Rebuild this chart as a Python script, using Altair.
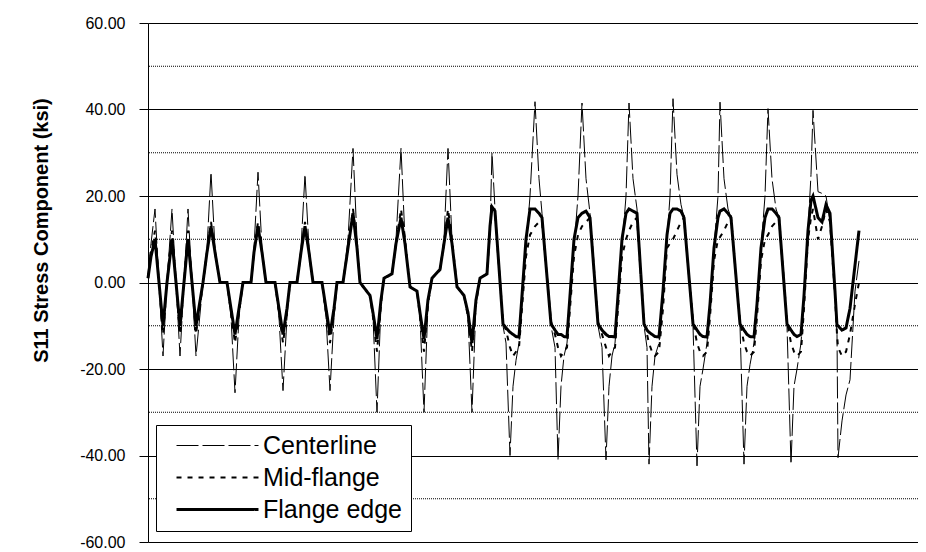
import altair as alt
import pandas as pd

step = [0, 3, 7, 11, 15, 19, 24, 28, 32, 36, 40, 44, 48,
        55, 59, 63, 67, 72, 79, 83, 87, 91, 95, 103, 106, 110, 114, 118, 127,
        131, 135, 139, 142, 149, 153, 157, 161, 165, 174, 178, 182, 186, 189, 195,
        200, 205, 209, 212, 222, 225, 229, 233, 236, 244, 248, 253, 257, 262, 269,
        272, 276, 280, 284, 292, 296, 300, 304, 309, 316, 320, 324, 328, 332, 339,
        342, 344, 347, 355, 358, 362, 365, 368, 371, 374, 378, 382, 387, 391, 394,
        403, 407, 410, 413, 416, 419, 422, 426, 430, 434, 438, 442,
        450, 454, 458, 461, 464, 467, 470, 474, 478, 481, 485, 489,
        496, 499, 501, 504, 507, 511, 515, 519, 522, 525, 529, 533, 536,
        545, 549, 552, 555, 559, 562, 566, 570, 572, 576, 580, 583,
        592, 596, 599, 602, 606, 609, 613, 617, 620, 624, 628, 631,
        639, 643, 646, 649, 653, 656, 660, 663, 665, 670, 674, 678, 682,
        687, 689, 690, 694, 698, 702, 707, 711]

centerline = [2, 9, 17, 0, -17, 0, 17, 0, -17, 0, 17, 0, -17,
              0, 8, 25.5, 8, 0, 0, -8, -25.5, -8, 0, 0, 8, 25.5, 8, 0, 0,
              -8, -25, -8, 0, 0, 8, 25, 8, 0, 0, -8, -25, -8, 0, 0,
              10, 31, 10, 0, -3, -8, -30, -5, 1, 2, 10, 31, 10, -1, -2,
              -8, -30, -5, 1, 3, 10, 31, 10, -1, -3, -8, -30, -5, 1, 2,
              12, 30, 17, -10, -14, -40, -24, -18, -14, -5, 8, 20, 41.8, 24, 16,
              -10, -15, -41, -24, -17, -14, -5, 8, 20, 41.5, 24, 16,
              -10, -15, -41, -24, -17, -14, -5, 8, 20, 41.5, 24, 17,
              -10, -15, -42, -24, -17, -14, -4, 10, 20, 42.5, 25, 18, 15,
              -10, -42.4, -24, -20, -14, -5, 8, 20, 41.7, 24, 17, 15,
              -10, -42, -24, -19, -14, -5, 8, 20, 40.2, 24, 17, 15,
              -10, -42, -24, -20, -14, -4, 12, 25, 39.8, 21, 20.6, 20, 14,
              -3, -12, -40.5, -32, -26, -22.5, -2, 5]

mid_flange = [1, 7, 12, 0, -12, 0, 12, 0, -12, 0, 12, 0, -12,
              0, 7, 14, 7, 0, 0, -7, -14, -7, 0, 0, 7, 14, 7, 0, 0,
              -7, -14, -7, 0, 0, 7, 14, 7, 0, 0, -7, -14, -7, 0, 0,
              8, 17, 9, 0, -3, -8, -16, -5, 1, 2, 9, 17, 10, -1, -2,
              -8, -16, -5, 1, 3, 9, 17, 10, -1, -3, -8, -16, -5, 1, 2,
              12, 17, 16, -9, -11, -15, -17, -16, -15, -6, 6, 11, 13, 14, 14,
              -9, -12, -15, -17, -16, -15, -6, 6, 11, 13, 14, 15,
              -9, -12, -15, -17, -16, -15, -6, 6, 10, 12, 14, 15,
              -9, -12, -14, -16, -17, -16, -6, 8, 9, 10, 12, 14, 15,
              -9, -14, -16, -17, -16, -8, 5, 10, 10.5, 12, 14, 15,
              -9, -14, -16, -17, -16, -8, 5, 10, 11, 13, 14, 15,
              -9, -14, -16, -17, -16, -6, 10, 15, 17, 10, 13, 17, 14,
              -3, -12, -15, -17, -16, -12, -5, 0]

flange_edge = [1, 6, 10, 0, -10, 0, 10, 0, -10, 0, 10, 0, -10,
               0, 7, 13, 7, 0, 0, -6, -12, -6, 0, 0, 7, 13, 7, 0, 0,
               -6, -12, -6, 0, 0, 7, 13, 7, 0, 0, -6, -12, -6, 0, 0,
               8, 16, 8, 0, -3, -7, -13, -4, 1, 2, 9, 15, 9, -1, -2,
               -7, -13, -4, 1, 3, 9, 15, 9, -1, -3, -7, -14, -4, 1, 2,
               13, 17.5, 16.5, -9.6, -10.5, -11.5, -12, -12.5, -12.6, -3, 10, 17, 17, 16, 15,
               -9.6, -11, -12, -12, -12.5, -12.6, -3, 10, 15, 16, 16.5, 15,
               -9.6, -11, -12, -12.5, -12.5, -12.6, -3, 10, 16, 17, 16.5, 16,
               -9.6, -11, -11.5, -12, -12.5, -12.6, -2, 11, 16, 17, 17, 16.5, 15,
               -9.6, -11, -12, -12.5, -12.6, -5, 8, 15, 16.5, 17, 16, 15,
               -9.6, -11, -12, -12.5, -12.6, -5, 8, 15, 17, 17, 16, 15,
               -9.6, -11, -12, -12.5, -12, -3, 12, 19, 20, 15, 14, 18, 16,
               -2, -10, -10, -11, -10.5, -6, 4, 12]

series_names = ["Centerline", "Mid-flange", "Flange edge"]
major_ticks = [-60, -40, -20, 0, 20, 40, 60]
minor_grid = [-50, -30, -10, 10, 30, 50]

rows = []
for name, vals in zip(series_names, [centerline, mid_flange, flange_edge]):
    for s, v in zip(step, vals):
        rows.append({"step": s, "stress": v, "series": name})
df = pd.DataFrame(rows)
minor_df = pd.DataFrame({"v": minor_grid})

FONT = "Arial"

y_scale = alt.Scale(domain=[-60, 60], nice=False, zero=False)
x_scale = alt.Scale(domain=[0, 770], nice=False, zero=False)

y_axis = alt.Axis(
    values=major_ticks,
    labelExpr="(datum.value < 0 ? '-' : '') + format(abs(datum.value), '.2f')",
    grid=True,
    gridColor="black",
    gridOpacity=1,
    gridWidth=1,
    domainColor="black",
    domainWidth=1,
    tickColor="black",
    tickSize=9,
    tickWidth=1,
    labelPadding=14,
    labelFont=FONT,
    labelFontSize=16,
    labelColor="black",
    title="S11 Stress Component (ksi)",
    titleFont=FONT,
    titleFontSize=20,
    titleFontWeight="bold",
    titleColor="black",
    titleAngle=270,
    titleAlign="center",
    titleBaseline="middle",
    titleX=-107,
    titleY=207,
)

minor = alt.Chart(minor_df).mark_rule(
    color="black", strokeWidth=1, strokeDash=[1, 1]
).encode(y=alt.Y("v:Q", scale=y_scale, axis=y_axis, title="S11 Stress Component (ksi)"))

legend = alt.Legend(
    title=None,
    orient="none",
    legendX=8,
    legendY=402,
    fillColor="white",
    strokeColor="black",
    padding=8,
    cornerRadius=0,
    symbolType="M-4,0H4",
    symbolSize=420,
    symbolStrokeColor="black",
    symbolOffset=41,
    labelOffset=33,
    labelFont=FONT,
    labelFontSize=25,
    labelColor="black",
    rowPadding=6,
    symbolDash={"expr": "datum.value === 'Centerline' ? [27, 12] : (datum.value === 'Mid-flange' ? [5, 6] : [1, 0])"},
    symbolStrokeWidth={"expr": "datum.value === 'Centerline' ? 1 : 3"},
)

lines = alt.Chart(df).mark_line().encode(
    x=alt.X("step:Q", scale=x_scale, axis=None),
    y=alt.Y("stress:Q", scale=y_scale, axis=y_axis, title="S11 Stress Component (ksi)"),
    color=alt.Color(
        "series:N",
        scale=alt.Scale(domain=series_names, range=["black", "black", "black"]),
        legend=legend,
    ),
    strokeDash=alt.StrokeDash(
        "series:N",
        scale=alt.Scale(domain=series_names, range=[[22, 4], [5, 6], [1, 0]]),
        legend=None,
    ),
    strokeWidth=alt.StrokeWidth(
        "series:N",
        scale=alt.Scale(domain=series_names, range=[1, 3, 3]),
        legend=None,
    ),
)

chart = alt.layer(minor, lines).properties(
    width=770,
    height=519,
    autosize=alt.AutoSizeParams(type="none"),
    padding={"left": 140, "top": 15, "right": 0, "bottom": 10},
    background="white",
).configure_view(strokeWidth=0)

chart.save("out.html", embed_options={"renderer": "svg", "actions": False})
